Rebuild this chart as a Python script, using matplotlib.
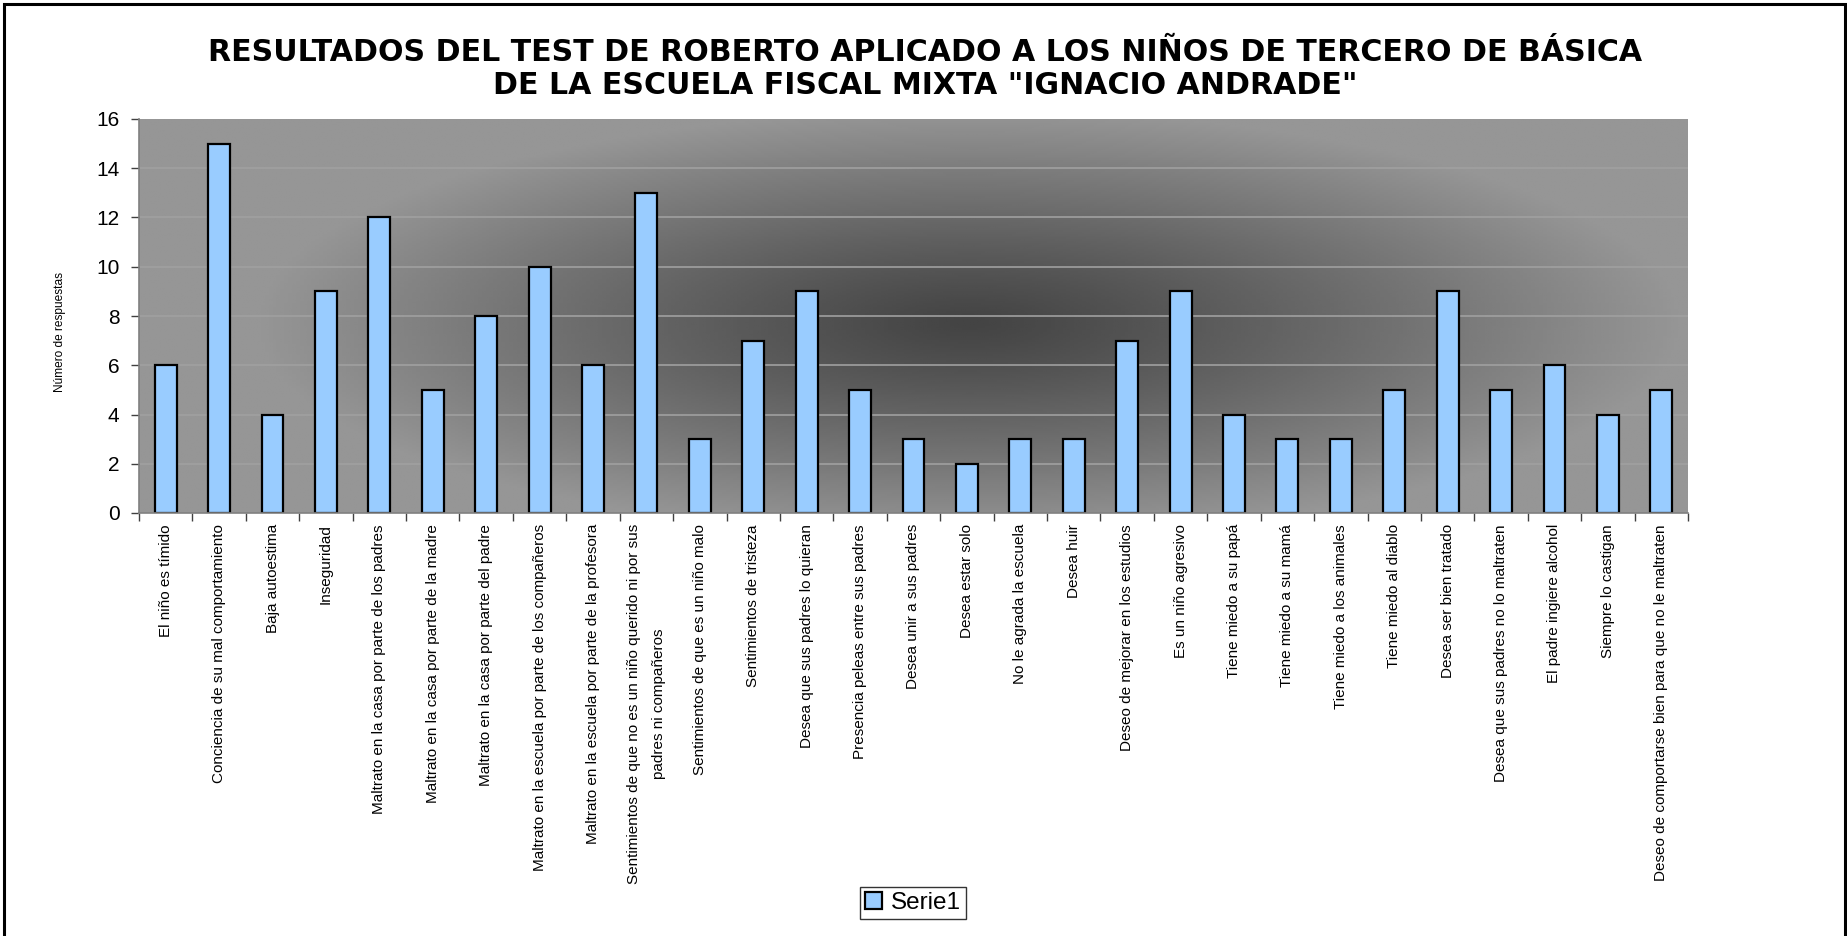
import numpy as np
import matplotlib
matplotlib.use("Agg")
import matplotlib.pyplot as plt
from matplotlib.patches import Rectangle
from matplotlib.ticker import FixedLocator

plt.rcParams['font.family'] = ['Liberation Sans', 'DejaVu Sans']

# Data
categorias = [
    "El niño es tímido",
    "Conciencia de su mal comportamiento",
    "Baja autoestima",
    "Inseguridad",
    "Maltrato en la casa por parte de los padres",
    "Maltrato en la casa por parte de la madre",
    "Maltrato en la casa por parte del padre",
    "Maltrato en la escuela por parte de los compañeros",
    "Maltrato en la escuela por parte de la profesora",
    "Sentimientos de que no es un niño querido ni por sus\npadres ni compañeros",
    "Sentimientos de que es un niño malo",
    "Sentimientos de tristeza",
    "Desea que sus padres lo quieran",
    "Presencia peleas entre sus padres",
    "Desea unir a sus padres",
    "Desea estar solo",
    "No le agrada la escuela",
    "Desea huir",
    "Deseo de mejorar en los estudios",
    "Es un niño agresivo",
    "Tiene miedo a su papá",
    "Tiene miedo a su mamá",
    "Tiene miedo a los animales",
    "Tiene miedo al diablo",
    "Desea ser bien tratado",
    "Desea que sus padres no lo maltraten",
    "El padre ingiere alcohol",
    "Siempre lo castigan",
    "Deseo de comportarse bien para que no le maltraten",
]
respuestas = [6, 15, 4, 9, 12, 5, 8, 10, 6, 13, 3, 7, 9, 5, 3, 2, 3, 3, 7, 9,
              4, 3, 3, 5, 9, 5, 6, 4, 5]
y_ticks = [0, 2, 4, 6, 8, 10, 12, 14, 16]

titulo = ('RESULTADOS DEL TEST DE ROBERTO APLICADO A LOS NIÑOS DE TERCERO DE BÁSICA\n'
          'DE LA ESCUELA FISCAL MIXTA "IGNACIO ANDRADE"')

W, H = 1847, 936
fig = plt.figure(figsize=(W / 100, H / 100), dpi=100, facecolor='white')

# outer frame of the chart area
fig.patches.append(Rectangle((4 / W, -0.01), (1845 - 4) / W, 1.01 - 4 / H,
                             transform=fig.transFigure, fill=False,
                             edgecolor='black', linewidth=2.2, zorder=0))

ax = fig.add_axes([139 / W, 1 - 513 / H, (1688 - 139) / W, (513 - 119) / H])

n = len(categorias)
x = np.arange(n)
ax.set_xlim(-0.5, n - 0.5)
ax.set_ylim(0, 16)

# background: grey gradient, dark in the centre
gx = np.linspace(0, 1, 400)
gy = np.linspace(0, 1, 200)
GX, GY = np.meshgrid(gx, gy)
r = np.sqrt(((GX - 0.536) / 0.46) ** 2 + ((GY - 0.48) / 0.54) ** 2)
r = np.clip(r, 0, 1) ** 1.15
dark, light = 0.265, 0.588
shade = dark + (light - dark) * r
ax.imshow(shade, cmap='gray', vmin=0, vmax=1, extent=(-0.5, n - 0.5, 0, 16),
          origin='lower', aspect='auto', zorder=0, interpolation='bilinear')

# grid lines are a light grey that fades into the light edges
for v in y_ticks[1:-1]:
    ax.axhline(v, color='#a0a0a0', linewidth=1.2, zorder=1)

ax.bar(x, respuestas, width=0.41, color='#99ccff', edgecolor='black',
       linewidth=1.6, zorder=3, label='Serie1')

for s in ['top', 'right']:
    ax.spines[s].set_visible(False)
for s in ['left', 'bottom']:
    ax.spines[s].set_color('#808080')
    ax.spines[s].set_linewidth(1.2)
    ax.spines[s].set_zorder(4)

ax.set_yticks(y_ticks)
ax.tick_params(axis='y', labelsize=15, direction='out', length=6, width=1,
               color='#404040', pad=8)

ax.set_xticks(x)
ax.set_xticklabels(categorias, rotation=90, ha='center', va='top',
                   multialignment='center', fontsize=11.0, linespacing=2.0)
ax.tick_params(axis='x', which='major', length=0, pad=8)
ax.xaxis.set_minor_locator(FixedLocator(np.arange(-0.5, n, 1.0)))
ax.tick_params(axis='x', which='minor', direction='out', length=6, width=1,
               color='#404040')

ax.set_ylabel('Número de respuestas', fontsize=8.6, va='center')
ax.yaxis.set_label_coords(-0.051, 0.459)

fig.text(925 / W, 1 - 69 / H, titulo, ha='center', va='center',
         family='DejaVu Sans', fontsize=21.6, fontweight='bold',
         linespacing=1.15)

leg = fig.legend(loc='center', bbox_to_anchor=(913 / W, 1 - 903 / H),
                 fontsize=17.5, frameon=True, fancybox=False, handlelength=0.7,
                 handleheight=0.7, handletextpad=0.35, borderpad=0.22,
                 edgecolor='black')
leg.get_frame().set_linewidth(1.0)

fig.savefig('out.png', dpi=100, facecolor='white')
